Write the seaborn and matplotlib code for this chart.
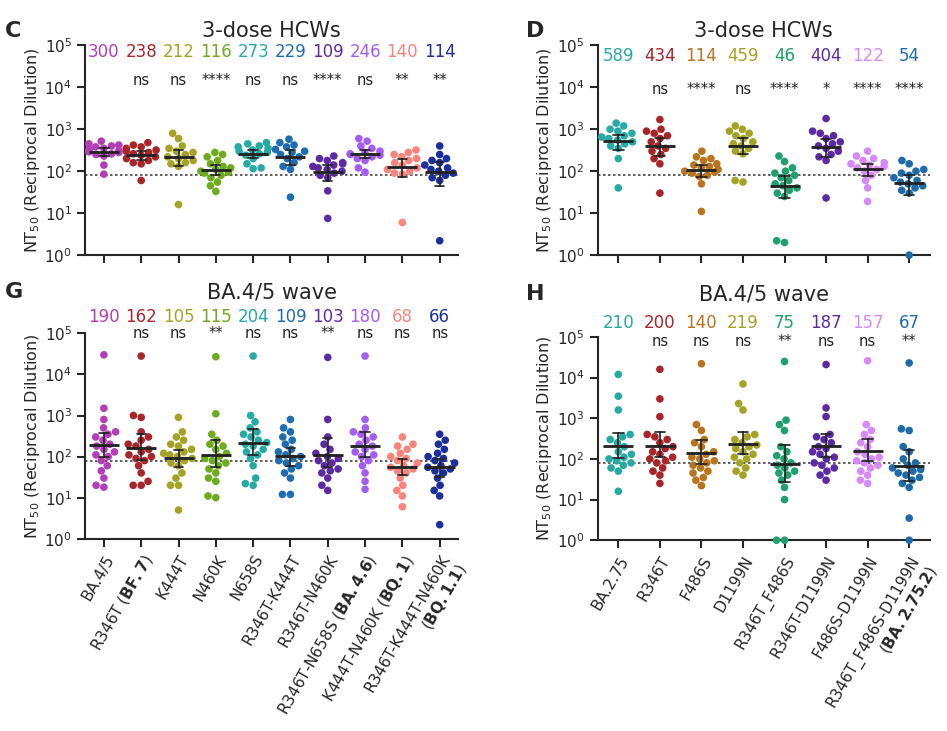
import numpy as np
import pandas as pd
import matplotlib
matplotlib.use("Agg")
import matplotlib.pyplot as plt
import matplotlib.transforms as mtransforms
import seaborn as sns

# --- panel C / G variants (BA.4/5 lineage) ---
C_GROUPS = ["BA.4/5", r"R346T ($\bf{BF.7}$)", "K444T", "N460K", "N658S", "R346T-K444T",
            "R346T-N460K", r"R346T-N658S ($\bf{BA.4.6}$)", r"K444T-N460K ($\bf{BQ.1}$)",
            "R346T-K444T-N460K\n" + r"($\bf{BQ.1.1}$)"]
C_COLORS = ["#b23fb5", "#a8262a", "#a5a326", "#6fab1e", "#26aaa3", "#1f6db0",
            "#5c2ba3", "#a55cf5", "#f8847c", "#1d2f9c"]
C_GM = ["300", "238", "212", "116", "273", "229", "109", "246", "140", "114"]
C_SIG = ["", "ns", "ns", "****", "ns", "ns", "****", "ns", "**", "**"]
C_VALUES = [
    [520, 450, 420, 400, 380, 350, 330, 310, 300, 290, 280, 260, 250, 230, 140, 85],
    [480, 420, 380, 350, 320, 300, 280, 260, 240, 220, 200, 180, 160, 150, 60],
    [800, 600, 400, 350, 300, 280, 250, 220, 200, 180, 160, 150, 130, 16],
    [280, 250, 220, 180, 150, 130, 120, 110, 100, 95, 90, 80, 70, 55, 45, 33],
    [480, 450, 400, 380, 350, 320, 300, 280, 260, 240, 200, 150, 120, 115],
    [580, 480, 420, 380, 330, 300, 280, 250, 220, 200, 160, 130, 110, 24],
    [230, 200, 180, 160, 150, 140, 130, 120, 110, 100, 90, 80, 70, 34, 7.5],
    [600, 520, 400, 350, 300, 280, 260, 250, 240, 220, 200, 180, 120, 95],
    [320, 280, 250, 220, 200, 180, 160, 140, 120, 110, 100, 90, 85, 6],
    [400, 250, 200, 180, 160, 140, 120, 110, 100, 90, 80, 70, 60, 2.2],
]
G_GM = ["190", "162", "105", "115", "204", "109", "103", "180", "68", "66"]
G_SIG = ["", "ns", "ns", "**", "ns", "ns", "**", "ns", "ns", "ns"]
G_VALUES = [
    [30000, 1500, 800, 500, 400, 350, 300, 250, 200, 180, 150, 130, 110, 100, 80, 60, 45, 30, 20, 18],
    [28000, 1000, 900, 400, 300, 250, 200, 180, 150, 130, 110, 100, 90, 80, 60, 40, 25, 20, 20],
    [900, 400, 300, 250, 200, 180, 150, 130, 120, 110, 100, 90, 80, 70, 60, 40, 30, 20, 20, 5],
    [27000, 1100, 350, 250, 200, 180, 150, 120, 100, 90, 80, 70, 60, 50, 40, 30, 25, 11, 10],
    [28000, 1000, 700, 500, 400, 350, 300, 250, 220, 200, 180, 150, 130, 110, 90, 60, 30, 22, 20],
    [800, 500, 400, 300, 250, 200, 150, 130, 110, 100, 90, 80, 70, 60, 50, 40, 30, 12, 12],
    [26000, 800, 300, 200, 150, 120, 100, 90, 80, 70, 60, 50, 45, 40, 30, 20, 15],
    [28000, 800, 500, 400, 350, 300, 250, 200, 180, 150, 130, 110, 100, 80, 60, 40, 25, 16],
    [300, 200, 180, 150, 120, 100, 90, 80, 70, 60, 55, 50, 45, 40, 30, 20, 15, 11, 6],
    [350, 250, 200, 150, 120, 100, 90, 80, 70, 60, 55, 50, 45, 40, 30, 20, 15, 11, 2.2],
]

# --- panel D / H variants (BA.2.75 lineage) ---
D_GROUPS = ["BA.2.75", "R346T", "F486S", "D1199N", "R346T_F486S", "R346T-D1199N",
            "F486S-D1199N", "R346T_F486S-D1199N\n" + r"($\bf{BA.2.75.2}$)"]
D_COLORS = ["#26aaa3", "#a8262a", "#b8741f", "#a5a326", "#1fa06c", "#5c2ba3",
            "#d68af5", "#1f6aa8"]
D_GM = ["589", "434", "114", "459", "46", "404", "122", "54"]
D_SIG = ["", "ns", "****", "ns", "****", "*", "****", "****"]
D_VALUES = [
    [1400, 1200, 1000, 900, 800, 700, 650, 600, 550, 500, 450, 400, 350, 200, 40],
    [1700, 1000, 900, 800, 700, 600, 500, 400, 350, 300, 250, 200, 150, 30],
    [300, 220, 200, 180, 150, 140, 130, 120, 110, 100, 95, 90, 80, 75, 50, 11],
    [1200, 1000, 900, 800, 700, 600, 500, 450, 400, 350, 300, 260, 60, 55],
    [230, 170, 120, 100, 90, 80, 70, 60, 50, 45, 40, 35, 30, 25, 2.2, 2],
    [1800, 900, 800, 700, 600, 500, 450, 400, 350, 300, 250, 220, 180, 23],
    [300, 230, 200, 180, 160, 150, 140, 130, 120, 110, 100, 80, 60, 40, 19],
    [180, 150, 110, 100, 90, 80, 70, 60, 55, 50, 45, 40, 35, 30, 1],
]
H_GM = ["210", "200", "140", "219", "75", "187", "157", "67"]
H_SIG = ["", "ns", "ns", "ns", "**", "ns", "ns", "**"]
H_VALUES = [
    [12000, 3500, 1600, 400, 350, 300, 250, 200, 150, 130, 110, 100, 90, 80, 70, 60, 50, 16],
    [16000, 3000, 1100, 400, 350, 300, 250, 200, 180, 150, 130, 110, 100, 90, 80, 60, 50, 40, 25],
    [22000, 700, 500, 300, 250, 200, 150, 130, 110, 100, 90, 80, 70, 60, 50, 45, 35, 30, 22],
    [7000, 2300, 1600, 400, 350, 300, 250, 220, 200, 180, 150, 130, 110, 100, 80, 60, 50, 40],
    [25000, 900, 700, 500, 200, 150, 120, 100, 80, 70, 60, 50, 45, 40, 30, 20, 10, 1, 1],
    [21000, 1800, 1100, 400, 350, 300, 250, 200, 180, 150, 130, 110, 100, 80, 70, 60, 50, 40, 30],
    [26000, 700, 500, 400, 300, 250, 200, 150, 130, 110, 100, 90, 80, 70, 60, 50, 40, 30, 25],
    [23000, 550, 500, 200, 150, 100, 80, 70, 60, 55, 50, 45, 40, 35, 30, 25, 20, 3.5, 1],
]

LOD = 80


def draw_panel(ax, groups, colors, values, gms, sigs, title, letter,
               show_labels, gm_y, sig_y, title_y):
    df = pd.DataFrame({
        "group": np.repeat(groups, [len(v) for v in values]),
        "nt50": np.concatenate([np.asarray(v, dtype=float) for v in values]),
    })
    ax.set_yscale("log")
    sns.swarmplot(data=df, x="group", y="nt50", hue="group", palette=colors,
                  order=groups, size=5.5, legend=False, ax=ax, clip_on=False, warn_thresh=1)
    # geometric mean +/- 95% CI (computed in log space)
    sns.pointplot(data=df, x="group", y="nt50", order=groups, color="#222222",
                  errorbar=("ci", 95), markers="_", markersize=22, linestyle="none",
                  capsize=0.25, err_kws={"linewidth": 1.2}, ax=ax, zorder=5)
    ax.axhline(LOD, color="#444444", linestyle=(0, (1.5, 1.5)), linewidth=1.2, zorder=0)
    ax.set_ylim(1, 1e5)
    ax.set_xlim(-0.5, len(groups) - 0.5)
    ax.set_yticks([1, 10, 100, 1e3, 1e4, 1e5])
    ax.tick_params(axis="y", which="minor", left=False)
    ax.tick_params(axis="both", labelsize=11, width=1.5, length=6)
    ax.set_xlabel("")
    ax.set_ylabel(r"NT$_{50}$ (Reciprocal Dilution)", fontsize=11.5, labelpad=2)
    if show_labels:
        ax.set_xticks(range(len(groups)))
        ax.set_xticklabels(groups, rotation=60, ha="right", rotation_mode="anchor", fontsize=11)
    else:
        ax.set_xticklabels([])
    for s in ["left", "bottom"]:
        ax.spines[s].set_linewidth(1.5)
    sns.despine(ax=ax)
    trans = mtransforms.blended_transform_factory(ax.transData, ax.transAxes)
    for i, (g, s, c) in enumerate(zip(gms, sigs, colors)):
        ax.text(i, gm_y, g, color=c, ha="center", va="center", fontsize=12, transform=trans, clip_on=False)
        ax.text(i, sig_y, s, color="#222222", ha="center", va="center", fontsize=10.5, transform=trans, clip_on=False)
    ax.text(0.5, title_y, title, ha="center", va="center", fontsize=15, transform=ax.transAxes)
    ax.text(-0.215, title_y, letter, ha="left", va="center", fontsize=16, fontweight="bold",
            transform=ax.transAxes)


sns.set_style("ticks")
plt.rcParams['font.family'] = ['DejaVu Sans']

fig = plt.figure(figsize=(9.47, 7.31), dpi=100)
ax_c = fig.add_axes([0.090, 0.651, 0.394, 0.287])
ax_d = fig.add_axes([0.631, 0.651, 0.351, 0.287])
ax_g = fig.add_axes([0.090, 0.263, 0.394, 0.281])
ax_h = fig.add_axes([0.631, 0.261, 0.351, 0.278])

draw_panel(ax_c, C_GROUPS, C_COLORS, C_VALUES, C_GM, C_SIG, "3-dose HCWs", "C",
           False, 0.97, 0.83, 1.07)
draw_panel(ax_d, D_GROUPS, D_COLORS, D_VALUES, D_GM, D_SIG, "3-dose HCWs", "D",
           False, 0.95, 0.79, 1.07)
draw_panel(ax_g, C_GROUPS, C_COLORS, G_VALUES, G_GM, G_SIG, "BA.4/5 wave", "G",
           True, 1.08, 1.0, 1.2)
draw_panel(ax_h, D_GROUPS, D_COLORS, H_VALUES, H_GM, H_SIG, "BA.4/5 wave", "H",
           True, 1.07, 0.98, 1.21)

fig.savefig("out.png", dpi=100, facecolor="white")
